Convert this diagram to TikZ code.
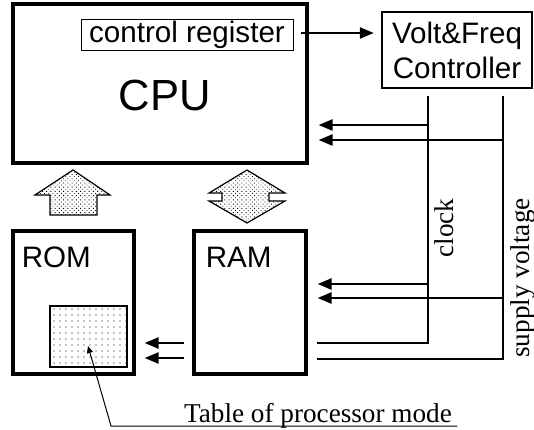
\documentclass[tikz,border=0pt]{standalone}
\usepackage{fontspec}
\setmainfont{Liberation Serif}
\setsansfont{Liberation Sans}
\usetikzlibrary{arrows.meta,positioning,patterns.meta}

\begin{document}
\begin{tikzpicture}[
  x=0.5pt, y=-0.5pt,
  >={Triangle[length=7pt, width=5.5pt]},
  every node/.style={font=\sffamily\fontsize{14.8}{17.5}\selectfont, align=center},
  block/.style={draw, line width=1.6pt, inner sep=0pt},
  regbox/.style={draw, line width=0.5pt, inner sep=0pt, minimum width=106pt, minimum height=15.5pt},
  ctrlbox/.style={draw, line width=1.2pt, minimum width=75pt, minimum height=38pt},
  lbl/.style={inner sep=0pt},
  wire/.style={line width=1.2pt},
  sig/.style={->, line width=1.2pt},
  bus/.style={draw, line width=0.6pt, pattern={Dots[distance=1.5pt, radius=0.3pt, angle=45]}},
  tagtext/.style={font=\rmfamily\fontsize{13.6}{16}\selectfont, inner sep=0pt},
  note/.style={-{Triangle[length=3.5pt, width=3pt]}, line width=0.5pt}
]
\useasboundingbox (0,0) rectangle (534,429);

\node[block, minimum width=147pt, minimum height=79.5pt] (cpu) at (160,83.5) {};
\node[lbl, font=\sffamily\fontsize{21.8}{24}\selectfont] (cpulbl) at (165,95) {CPU};
\node[regbox] (creg) at (187,34.5) {control register};
\node[ctrlbox] (vf) at (457,50) {Volt\&Freq\\Controller};

\node[block, minimum width=60.5pt, minimum height=71.5pt] (rom) at (73.5,302.5) {};
\node[block, minimum width=56pt, minimum height=71.5pt] (ram) at (250,302.5) {};
\node[lbl, below right=8.5pt and 5pt of rom.north west] (romlbl) {ROM};
\node[lbl, below right=8.5pt and 6.5pt of ram.north west] (ramlbl) {RAM};
\node[draw, line width=0.6pt, minimum width=38.5pt, minimum height=30.5pt, pattern={Dots[distance=3pt, radius=0.3pt]}] (tbl) at (88.5,336.5) {};

\coordinate (clk) at (428,96);
\coordinate (sup) at (503,96);

\draw[sig] ([xshift=3.5pt]creg.east |- 0,33) -- ([xshift=-3.5pt]vf.west |- 0,33);

\draw[wire] (clk) |- ([xshift=4.5pt]ram.east |- 0,343);
\draw[wire] (sup) |- ([xshift=4.5pt]ram.east |- 0,359);
\draw[sig] (clk |- 0,125) -- ([xshift=5pt]cpu.east |- 0,125);
\draw[sig] (sup |- 0,140) -- ([xshift=5pt]cpu.east |- 0,140);
\draw[sig] (clk |- 0,284) -- ([xshift=5pt]ram.east |- 0,284);
\draw[sig] (sup |- 0,298) -- ([xshift=5pt]ram.east |- 0,298);
\draw[sig] ([xshift=-4pt]ram.west |- 0,343) -- ([xshift=4.5pt]rom.east |- 0,343);
\draw[sig] ([xshift=-4pt]ram.west |- 0,358) -- ([xshift=4.5pt]rom.east |- 0,358);

\draw[bus] (73,170) -- (110,195) -- (97,195) -- (97,215) -- (50,215) -- (50,195) -- (35,195) -- cycle;
\draw[bus] (247,170) -- (285,193) -- (269,193) -- (269,201) -- (285,201) -- (247,223) -- (209,201) -- (222,201) -- (222,193) -- (209,193) -- cycle;

\node[tagtext, rotate=90, anchor=base] (clklbl) at (453,228) {clock};
\node[tagtext, rotate=90, anchor=base] (suplbl) at (529,278) {supply voltage};
\node[tagtext, anchor=base, inner xsep=2.5pt] (tbllbl) at (318,422) {Table of processor mode};

\coordinate (bend) at (111,426);
\coordinate (tblpt) at (88,346);
\draw[note] ([yshift=-2pt]tbllbl.base east) -- (bend) -- (tblpt);

\end{tikzpicture}
\end{document}
